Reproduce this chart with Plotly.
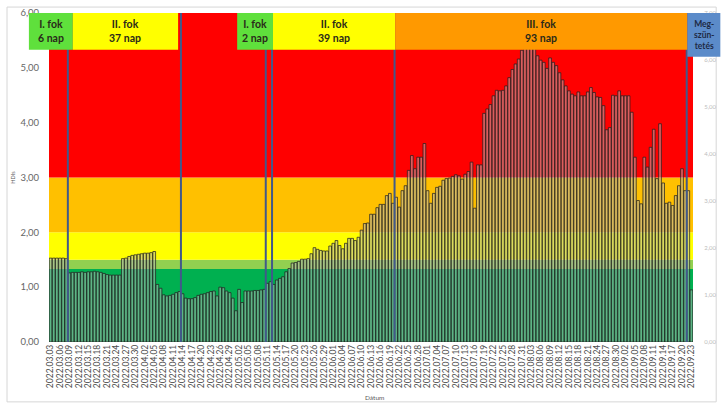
import plotly.graph_objects as go
import pandas as pd

# ---------------- data ----------------
start_date = "2022-03-03"
hdi_values = [
    1.53, 1.53, 1.53, 1.53, 1.53, 1.52,
    1.26, 1.27, 1.27, 1.27, 1.28, 1.27, 1.28, 1.28, 1.29, 1.28, 1.27, 1.25,
    1.23, 1.22, 1.22, 1.22, 1.22,
    1.52, 1.53, 1.56, 1.58, 1.59, 1.60, 1.61, 1.62, 1.62, 1.63, 1.65,
    1.05, 0.98, 0.86, 0.84, 0.85, 0.87, 0.90, 0.92, 0.88,
    0.80, 0.79, 0.79, 0.81, 0.85, 0.87, 0.88, 0.90, 0.92, 0.93, 0.84, 1.00, 0.99,
    0.93, 0.90, 0.80, 0.57, 0.96, 0.72, 0.93, 0.93, 0.93, 0.94, 0.94, 0.95, 0.96,
    1.07, 1.10, 1.05, 1.13,
    1.16, 1.19, 1.28, 1.34, 1.44, 1.45, 1.47, 1.51, 1.51, 1.52,
    1.61, 1.72, 1.69, 1.67, 1.66, 1.66, 1.75, 1.80, 1.85, 1.76,
    1.70, 1.80, 1.89, 1.89, 1.85, 1.91, 2.04, 2.16, 2.17, 2.33,
    2.33, 2.45, 2.51, 2.51, 2.67, 2.71, 2.53, 2.64, 2.46, 2.76,
    2.85, 3.13, 3.40, 3.16, 3.37, 3.37, 3.62, 2.76, 2.53, 2.71,
    2.82, 2.84, 2.95, 2.98, 2.99, 3.02, 3.05, 3.03, 2.97, 3.06,
    3.11, 3.28, 2.44, 3.23, 3.23,
    4.17, 4.25, 4.33, 4.49, 4.59, 4.58, 4.59, 4.67, 4.82, 4.97,
    5.07, 5.16, 5.32, 5.45, 5.52, 5.55, 5.45, 5.22, 5.14, 5.10,
    4.99, 5.18, 5.10, 5.04, 4.91, 4.78, 4.67, 4.58, 4.52, 4.49,
    4.56, 4.49, 4.49, 4.56, 4.64, 4.55, 4.47, 4.46, 4.31, 3.87,
    3.91, 4.50, 4.49, 4.58, 4.49, 4.49, 4.49, 4.19, 3.37, 2.58,
    2.52, 3.37, 3.19, 3.55, 3.88, 2.98, 3.98, 2.90, 2.53, 2.55,
    2.49, 2.67, 2.85, 3.16, 2.76, 2.76, 0.95,
]

band_edges = [0, 1.33, 1.5, 2.0, 3.0, 6.0]
band_colors = ["#00B050", "#92D050", "#FFFF00", "#FFC000", "#FF0000"]

# phase boundary lines (dates, drawn between days)
phase_lines = ["2022-03-08 12:00", "2022-04-13 12:00", "2022-05-10 12:00",
               "2022-05-12 12:00", "2022-06-20 12:00", "2022-09-21 12:00"]

# header boxes: label, left/right edge as day offsets from start, colour
header_labels = ["I. fok<br>6 nap", "II. fok<br>37 nap", "I. fok<br>2 nap",
                 "II. fok<br>39 nap", "III. fok<br>93 nap", "Meg-<br>szün-<br>tetés"]
header_left = [-6.9, 7.1, 59.4, 70.8, 109.7, 202.7]
header_right = [7.1, 40.6, 70.8, 109.7, 202.7, 213.2]
header_colors = ["#5FE03C", "#FFFF00", "#5FE03C", "#FFFF00", "#FF9900", "#5B8BC9"]
header_bottom = [5.33, 5.33, 5.33, 5.33, 5.33, 5.2]

y_max = 6.0
y2_max = 7.0

# ---------------- figure ----------------
dates = pd.date_range(start_date, periods=len(hdi_values), freq="D")
n = len(hdi_values)
day_ms = 86400000
x_lo = dates[0] - pd.Timedelta(hours=12)
x_hi = dates[-1] + pd.Timedelta(hours=12)


def xpaper(day_offset):
    return (day_offset + 0.5) / n


fig = go.Figure()
fig.add_trace(go.Bar(
    x=dates, y=hdi_values, width=0.86 * day_ms,
    marker=dict(color="rgba(185,185,185,0.5)",
                line=dict(color="rgba(30,30,30,0.9)", width=0.8)),
    hoverinfo="x+y", showlegend=False,
))
# dummy trace to activate the right-hand axis
fig.add_trace(go.Scatter(x=[dates[0]], y=[0], yaxis="y2", mode="markers",
                         marker=dict(opacity=0), hoverinfo="skip", showlegend=False))

shapes = []
for i, c in enumerate(band_colors):
    shapes.append(dict(type="rect", xref="x domain", yref="y", x0=0, x1=1,
                       y0=band_edges[i], y1=band_edges[i + 1],
                       fillcolor=c, line=dict(width=0), layer="below"))
for d in phase_lines:
    shapes.append(dict(type="line", xref="x", yref="y", x0=d, x1=d, y0=0, y1=y_max,
                       line=dict(color="#41598A", width=2), layer="above"))
for i, c in enumerate(header_colors):
    shapes.append(dict(type="rect", xref="paper", yref="paper",
                       x0=xpaper(header_left[i]), x1=xpaper(header_right[i]),
                       y0=header_bottom[i] / y_max, y1=1.0,
                       fillcolor=c, line=dict(width=0), layer="above"))
# light outer frame
shapes.append(dict(type="rect", xref="paper", yref="paper",
                   x0=-0.0652, x1=1.036, y0=-0.182, y1=1.018,
                   line=dict(color="#D6D6D6", width=1), fillcolor="rgba(0,0,0,0)",
                   layer="below"))

annotations = []
for i, lab in enumerate(header_labels):
    last = i == len(header_labels) - 1
    annotations.append(dict(
        xref="paper", yref="paper",
        x=(xpaper(header_left[i]) + xpaper(header_right[i])) / 2,
        y=(header_bottom[i] / y_max + 1.0) / 2,
        text="<b>" + lab + "</b>", showarrow=False,
        font=dict(family="Lato", size=8.5 if last else 10.5,
                  color="#1E2A44" if last else "#2A2A1A"),
        align="center", xanchor="center", yanchor="middle",
    ))
annotations.append(dict(xref="paper", yref="paper", x=0.506, y=-0.170,
                        text="Dátum", showarrow=False,
                        font=dict(family="Lato", size=6.5, color="#595959"),
                        xanchor="center", yanchor="middle"))

fig.update_layout(
    width=722, height=405,
    margin=dict(l=49, r=29, t=13, b=63, autoexpand=False),
    paper_bgcolor="white", plot_bgcolor="white",
    separators=",.",
    bargap=0.1,
    shapes=shapes, annotations=annotations,
    xaxis=dict(type="date", range=[x_lo, x_hi], tick0=start_date, automargin=False,
               dtick=3 * day_ms, tickformat="%Y.%m.%d", tickangle=-90,
               tickfont=dict(family="Lato", size=8.5, color="#4D4D4D"),
               showgrid=False, zeroline=False, showline=False, ticks=""),
    yaxis=dict(range=[0, y_max], dtick=1, tickformat=".2f", automargin=False,
               tickfont=dict(family="Lato", size=9.5, color="#666666"),
               showgrid=False, zeroline=False, showline=False,
               ticks="outside", ticklen=7, tickcolor="rgba(0,0,0,0)",
               title=dict(text="HDIs", font=dict(family="Lato", size=5.5, color="#595959"),
                          standoff=4)),
    yaxis2=dict(range=[0, y2_max], dtick=1, tickformat=".2f", overlaying="y",
                side="right", anchor="x", automargin=False,
                tickfont=dict(family="Lato", size=6, color="#BDBDBD"),
                showgrid=False, zeroline=False, showline=False,
                ticks="outside", ticklen=9, tickcolor="rgba(0,0,0,0)"),
)

fig.write_html("out.html", config={"displayModeBar": False},
               post_script="document.body.style.margin='0';document.body.style.padding='0';")
